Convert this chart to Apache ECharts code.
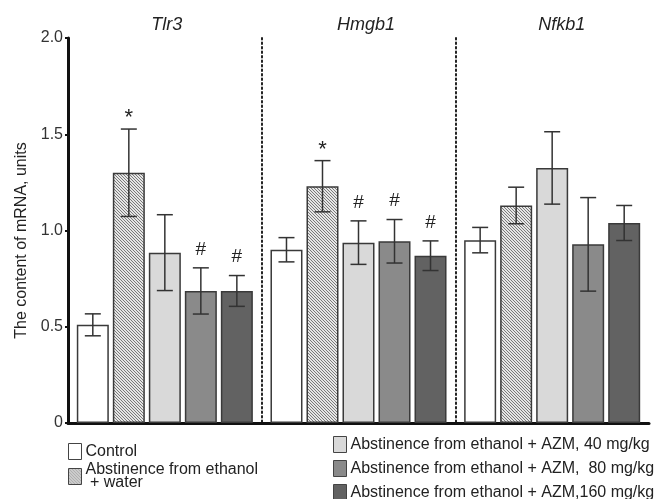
<!DOCTYPE html>
<html>
<head>
<meta charset="utf-8">
<script src="https://cdn.jsdelivr.net/npm/echarts@6/dist/echarts.min.js"></script>
<style>
  html, body { margin: 0; padding: 0; background: #fff; }
  #chart { width: 665px; height: 499px; }
</style>
</head>
<body>
<div id="chart"></div>
<script>
// genes
var categories = ['Tlr3', 'Hmgb1', 'Nfkb1'];
var seriesNames = [
    'Control',
    'Abstinence from ethanol + water',
    'Abstinence from ethanol + AZM, 40 mg/kg',
    'Abstinence from ethanol + AZM,  80 mg/kg',
    'Abstinence from ethanol + AZM,160 mg/kg'
];
// means
var controlVals = [0.51, 0.90, 0.95];
var waterVals   = [1.30, 1.23, 1.13];
var azm40Vals   = [0.885, 0.937, 1.325];
var azm80Vals   = [0.686, 0.944, 0.928];
var azm160Vals  = [0.686, 0.869, 1.039];
// errors (+/-)
var controlErr = [0.057, 0.063, 0.066];
var waterErr   = [0.227, 0.133, 0.095];
var azm40Err   = [0.197, 0.113, 0.188];
var azm80Err   = [0.12, 0.113, 0.243];
var azm160Err  = [0.08, 0.077, 0.091];
// significance marks
var controlMarks = ['', '', ''];
var waterMarks   = ['*', '*', ''];
var azm40Marks   = ['', '#', ''];
var azm80Marks   = ['#', '#', ''];
var azm160Marks  = ['#', '#', ''];
var yTicks = [0, 0.5, 1.0, 1.5, 2.0];

var allVals = [controlVals, waterVals, azm40Vals, azm80Vals, azm160Vals];
var allErr = [controlErr, waterErr, azm40Err, azm80Err, azm160Err];
var allMarks = [controlMarks, waterMarks, azm40Marks, azm80Marks, azm160Marks];

var BAR_GAP = 0.125;      // barGap
var CAT_GAP = 0.091;      // barCategoryGap
var N = allVals.length;

// hatch pattern "\\\"
var hatch = document.createElement('canvas');
hatch.width = 3; hatch.height = 3;
var hc = hatch.getContext('2d');
hc.fillStyle = '#e6e6e6';
hc.fillRect(0, 0, 3, 3);
hc.fillStyle = '#7a7a7a';
for (var i = 0; i < 3; i++) hc.fillRect(i, i, 1, 1);

var fills = ['#ffffff', {image: hatch, repeat: 'repeat'}, '#d9d9d9', '#8a8a8a', '#626262'];

var myChart = echarts.init(document.getElementById('chart'));

var errRender = function (k) {
    return function (params, api) {
        var ci = api.value(0), v = api.value(1), e = api.value(2);
        var band = api.size([1, 0])[0];
        var bw = band * (1 - CAT_GAP) / (N + (N - 1) * BAR_GAP);
        var groupW = N * bw + (N - 1) * bw * BAR_GAP;
        var off = -groupW / 2 + k * bw * (1 + BAR_GAP) + bw / 2;
        var top = api.coord([ci, v + e]);
        var bot = api.coord([ci, v - e]);
        var x = top[0] + off;
        var cap = 8;
        var st = {stroke: '#333', lineWidth: 1.5, fill: null};
        var children = [
            {type: 'line', shape: {x1: x, y1: top[1], x2: x, y2: bot[1]}, style: st},
            {type: 'line', shape: {x1: x - cap, y1: top[1], x2: x + cap, y2: top[1]}, style: st},
            {type: 'line', shape: {x1: x - cap, y1: bot[1], x2: x + cap, y2: bot[1]}, style: st}
        ];
        var m = allMarks[k][params.dataIndex];
        if (m) {
            children.push({
                type: 'text',
                style: {
                    text: m, x: x, y: top[1] - (m === '#' ? 9 : 0),
                    align: 'center', verticalAlign: 'bottom',
                    fontSize: m === '#' ? 19 : 22, fontFamily: 'Liberation Sans, Arial', fill: '#222'
                }
            });
        }
        return {type: 'group', children: children};
    };
};

var series = [];
for (var k = 0; k < N; k++) {
    series.push({
        name: seriesNames[k],
        type: 'bar',
        data: allVals[k],
        barGap: (BAR_GAP * 100) + '%',
        barCategoryGap: (CAT_GAP * 100) + '%',
        itemStyle: {color: fills[k], borderColor: '#3a3a3a', borderWidth: 1.5},
        emphasis: {disabled: true}
    });
}
for (var k = 0; k < N; k++) {
    var d = [];
    for (var j = 0; j < categories.length; j++) {
        d.push([j, allVals[k][j], allErr[k][j]]);
    }
    series.push({
        type: 'custom',
        renderItem: errRender(k),
        data: d,
        z: 5,
        silent: true
    });
}

var legendBase = {
    orient: 'vertical', padding: 0, icon: 'rect',
    itemWidth: 13, itemHeight: 16, itemGap: 7,
    itemStyle: {borderColor: '#444', borderWidth: 1},
    selectedMode: false
};

// gene titles sit a little right of the group centre in the original
var titleStyle = {fontSize: 18, fontStyle: 'italic', color: '#222'};

var option = {
    animation: false,
    textStyle: {fontFamily: 'Liberation Sans, Arial, sans-serif'},
    grid: {left: 68, right: 16, top: 38, bottom: 76},
    legend: [
        echarts.util.merge({
            left: 68, top: 443,
            data: [seriesNames[0]],
            textStyle: {fontSize: 16, color: '#222', lineHeight: 16, padding: [0, 0, 0, -1]}
        }, legendBase),
        echarts.util.merge({
            left: 68, top: 458,
            data: [seriesNames[1]],
            formatter: function () { return 'Abstinence from ethanol\n + water'; },
            textStyle: {fontSize: 16, color: '#222', lineHeight: 13, padding: [11, 0, 0, -1]}
        }, legendBase),
        echarts.util.merge({
            left: 333, top: 436,
            width: 330, height: 70,
            data: [seriesNames[2], seriesNames[3], seriesNames[4]],
            textStyle: {fontSize: 16, color: '#222', padding: [0, 0, 0, -1]}
        }, legendBase)
    ],
    xAxis: [{
        type: 'category',
        data: categories,
        position: 'bottom',
        axisLine: {lineStyle: {color: '#111', width: 3}},
        axisTick: {show: false},
        axisLabel: {show: false},
        splitLine: {
            show: true, showMinLine: false, showMaxLine: false,
            lineStyle: {color: '#222', width: 2, type: [1.5, 3], cap: 'round'}
        }
    }, {
        type: 'category',
        data: categories,
        position: 'top',
        axisLine: {show: false},
        axisTick: {show: false},
        axisLabel: {
            margin: 4,
            formatter: function (v, i) { return '{t' + i + '|' + v + '}'; },
            rich: {
                t0: echarts.util.extend({padding: [0, 0, 0, 4]}, titleStyle),
                t1: echarts.util.extend({padding: [0, 0, 0, 15]}, titleStyle),
                t2: echarts.util.extend({padding: [0, 0, 0, 19]}, titleStyle)
            }
        }
    }],
    yAxis: {
        type: 'value',
        min: yTicks[0], max: yTicks[yTicks.length - 1], interval: 0.5,
        name: 'The content of mRNA, units',
        nameLocation: 'middle', nameGap: 38,
        nameTextStyle: {fontSize: 16, color: '#222', padding: [0, 20, 0, 0]},
        axisLine: {show: true, lineStyle: {color: '#111', width: 3}},
        axisTick: {show: true, length: 3, lineStyle: {color: '#111', width: 2}},
        axisLabel: {
            fontSize: 16, color: '#333', margin: 5,
            formatter: function (v) { return v === 0 ? '0' : v.toFixed(1); }
        },
        splitLine: {show: false}
    },
    series: series
};
myChart.setOption(option);
</script>
</body>
</html>
